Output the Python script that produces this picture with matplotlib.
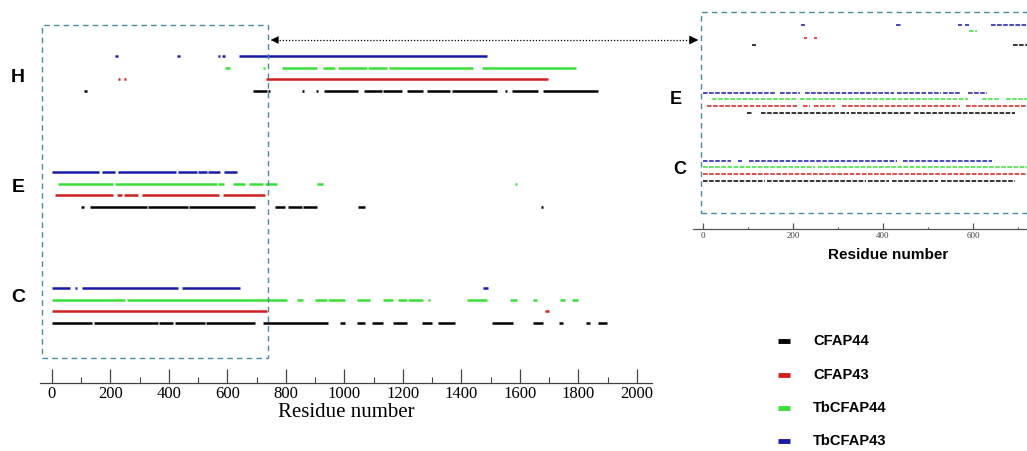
import matplotlib
matplotlib.use("Agg")
import matplotlib.pyplot as plt
from matplotlib.patches import Rectangle, FancyArrowPatch
from matplotlib.lines import Line2D
from matplotlib.ticker import MultipleLocator

# ---------------------------------------------------------------------------
# Datos: segmentos (inicio, fin) en número de residuo, por estado H / E / C
# ---------------------------------------------------------------------------
cfap44_H = [(108, 118), (688, 735), (740, 746), (855, 863), (902, 911), (930, 1046),
            (1067, 1128), (1132, 1197), (1214, 1268), (1282, 1361), (1368, 1521),
            (1548, 1557), (1573, 1662), (1679, 1867)]
cfap44_E = [(99, 108), (130, 325), (328, 465), (470, 694), (762, 797), (807, 855),
            (858, 906), (1046, 1070), (1671, 1680)]
cfap44_C = [(0, 137), (142, 362), (367, 414), (419, 523), (528, 694), (721, 944),
            (985, 1002), (1043, 1070), (1094, 1132), (1166, 1214), (1265, 1299),
            (1320, 1378), (1504, 1576), (1644, 1679), (1735, 1748), (1827, 1840), (1867, 1897)]

cfap43_H = [(224, 232), (246, 254), (731, 1696)]
cfap43_E = [(10, 209), (222, 239), (246, 294), (308, 571), (584, 728)]
cfap43_C = [(0, 735), (1685, 1699)]

tbcfap44_H = [(591, 608), (721, 729), (786, 906), (926, 968), (978, 1077), (1080, 1145),
              (1152, 1439), (1470, 1791)]
tbcfap44_E = [(21, 209), (215, 564), (568, 588), (619, 660), (673, 721), (728, 769),
              (906, 926), (1582, 1590)]
tbcfap44_C = [(0, 250), (256, 803), (837, 858), (899, 940), (944, 1002), (1043, 1087),
              (1132, 1166), (1183, 1214), (1217, 1268), (1285, 1293), (1419, 1487),
              (1566, 1590), (1644, 1658), (1737, 1754), (1778, 1798)]

tbcfap43_H = [(217, 227), (429, 439), (566, 576), (582, 591), (639, 1487)]
tbcfap43_E = [(0, 161), (171, 215), (226, 424), (431, 496), (499, 530), (533, 574), (588, 632)]
tbcfap43_C = [(0, 62), (77, 87), (103, 431), (444, 643), (1474, 1491)]

estados = ['C', 'E', 'H']
series = ['CFAP44', 'CFAP43', 'TbCFAP44', 'TbCFAP43']
colores = ['black', '#d02020', '#3adf3a', '#1a1aa8']
segmentos = {
    'CFAP44': {'H': cfap44_H, 'E': cfap44_E, 'C': cfap44_C},
    'CFAP43': {'H': cfap43_H, 'E': cfap43_E, 'C': cfap43_C},
    'TbCFAP44': {'H': tbcfap44_H, 'E': tbcfap44_E, 'C': tbcfap44_C},
    'TbCFAP43': {'H': tbcfap43_H, 'E': tbcfap43_E, 'C': tbcfap43_C},
}

W, H = 1027, 451
BOX = '#4a8aa0'


def fx(px):
    return px / W


def fy(py):
    return 1 - py / H


def dibujar_segmentos(ax, lw, ls='solid'):
    for g, estado in enumerate(estados):
        for k, (nombre, color) in enumerate(zip(series, colores)):
            segs = segmentos[nombre][estado]
            ini = [s[0] for s in segs]
            fin = [s[1] for s in segs]
            y = g + 0.1 * k
            lines = ax.hlines([y] * len(segs), ini, fin, colors=color, lw=lw,
                              linestyles=ls)
            lines.set_capstyle('butt')


def estilo_eje(ax, mayor, menor, largo, fuente, tam, color):
    for s in ['left', 'right', 'top']:
        ax.spines[s].set_visible(False)
    ax.spines['bottom'].set_color(color)
    ax.spines['bottom'].set_linewidth(0.9)
    ax.set_yticks([])
    ax.xaxis.set_major_locator(MultipleLocator(mayor))
    ax.xaxis.set_minor_locator(MultipleLocator(menor))
    ax.tick_params(axis='x', which='major', direction='in', length=largo[0],
                   width=0.9, color=color, pad=2)
    ax.tick_params(axis='x', which='minor', direction='in', length=largo[1],
                   width=0.8, color=color)
    for lab in ax.get_xticklabels():
        lab.set_fontfamily(fuente)
        lab.set_fontsize(tam)
    ax.patch.set_alpha(0)


fig = plt.figure(figsize=(W / 100, H / 100), dpi=100)

# ---------------------------------------------------------------------------
# Panel principal
# ---------------------------------------------------------------------------
x0, x1 = 40.3, 651.6
ax = fig.add_axes([fx(x0), fy(383), (x1 - x0) / W, 363 / H])
ax.set_xlim(-40, 2050)
ax.set_ylim(-0.517, 2.612)
dibujar_segmentos(ax, 1.8)
ax.set_xticks(range(0, 2001, 200))
estilo_eje(ax, 200, 100, (10, 4), 'Liberation Serif', 12, '#444444')
ax.set_xlabel('Residue number', fontfamily='Liberation Serif', fontsize=15, labelpad=1)

for texto, py in zip(['H', 'E', 'C'], [78, 188, 297]):
    fig.text(fx(18), fy(py), texto, fontfamily='Liberation Sans', fontweight='bold',
             fontsize=14, ha='center', va='center')

# ---------------------------------------------------------------------------
# Panel ampliado
# ---------------------------------------------------------------------------
axi = fig.add_axes([fx(693), fy(229), 334 / W, 217 / H])
axi.set_xlim(-22, 720)
axi.set_ylim(-0.706, 2.485)
dibujar_segmentos(axi, 1.1, ls=(0, (3, 1)))
axi.set_xticks([0, 200, 400, 600])
estilo_eje(axi, 200, 100, (4.5, 1.5), 'Liberation Serif', 6.5, '#555555')
for lab in axi.get_xticklabels():
    lab.set_color('#444444')
fig.text(fx(888), fy(255), 'Residue number', fontfamily='Liberation Sans',
         fontweight='bold', fontsize=11, ha='center', va='center')
for texto, px, py in [('E', 676, 100), ('C', 680, 170)]:
    fig.text(fx(px), fy(py), texto, fontfamily='Liberation Sans', fontweight='bold',
             fontsize=13, ha='center', va='center')

# Cajas discontinuas y flecha
fig.add_artist(Rectangle((fx(42), fy(358)), (268 - 42) / W, (358 - 25) / H,
                         transform=fig.transFigure, fill=False, ec=BOX, lw=1,
                         ls=(0, (4, 3))))
fig.add_artist(Rectangle((fx(701), fy(213)), (1040 - 701) / W, (213 - 12) / H,
                         transform=fig.transFigure, fill=False, ec=BOX, lw=1,
                         ls=(0, (4, 3))))
fig.add_artist(Line2D([fx(276), fx(692)], [fy(40), fy(40)], transform=fig.transFigure,
                      color='black', lw=0.9, ls=(0, (1, 1.5))))
fig.add_artist(FancyArrowPatch((fx(276), fy(40)), (fx(268), fy(40)),
                               transform=fig.transFigure, arrowstyle='-|>',
                               mutation_scale=12, color='black', lw=0.5))
fig.add_artist(FancyArrowPatch((fx(690), fy(40)), (fx(701), fy(40)),
                               transform=fig.transFigure, arrowstyle='-|>',
                               mutation_scale=14, color='black', lw=0.5))

# Leyenda
for nombre, color, py in zip(series, colores, [341, 375, 408, 441]):
    fig.add_artist(Line2D([fx(778), fx(790)], [fy(py), fy(py)], transform=fig.transFigure,
                          color=color, lw=3.5, solid_capstyle='butt'))
    fig.text(fx(813), fy(py), nombre, fontfamily='Liberation Sans', fontweight='bold',
             fontsize=10.5, ha='left', va='center')

fig.savefig('out.png', dpi=100)
